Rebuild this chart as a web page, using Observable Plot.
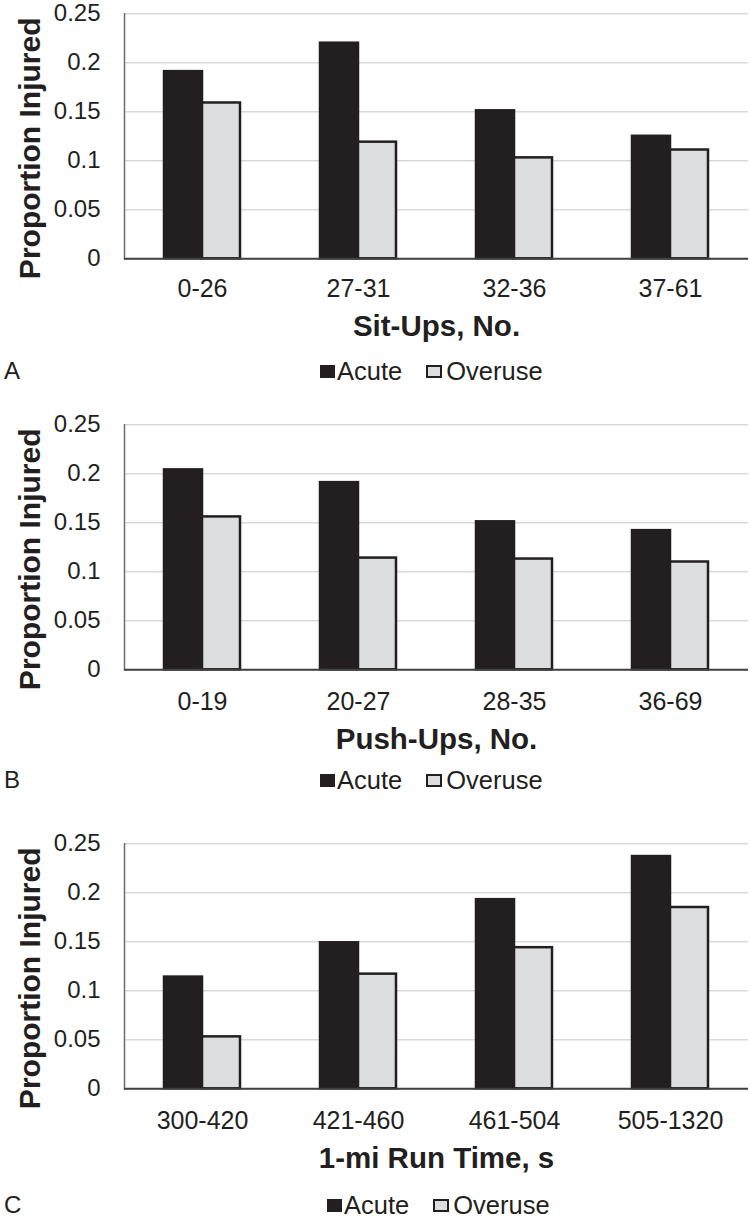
<!DOCTYPE html>
<html>
<head>
<meta charset="utf-8">
<script src="https://cdn.jsdelivr.net/npm/d3@7"></script>
<script src="https://cdn.jsdelivr.net/npm/@observablehq/plot@0.6"></script>
<style>
  html, body { margin: 0; padding: 0; background: #fff; }
  body { width: 750px; height: 1217px; position: relative; overflow: hidden;
         font-family: "Liberation Sans", Arial, sans-serif; color: #231f20; }
  .panel { position: absolute; left: 0; width: 750px; }
  .tag { position: absolute; left: 4px; font-size: 24px; line-height: 28px; }
  .legend { position: absolute; font-size: 25.5px; line-height: 28px; height: 28px;
            display: flex; align-items: center; white-space: nowrap; }
  .sw { display: inline-block; width: 15px; height: 13px; box-sizing: border-box; }
  .sw.acute { background: #231f20; margin-right: 2px; }
  .sw.overuse { background: #dcdddf; border: 2px solid #231f20; width: 16px; margin-left: 24px; margin-right: 4px; }
  [aria-label="y-axis label"] { translate: 0px 12px; }
  [aria-label="y-axis label"], [aria-label="y-axis label"] text { font-weight: bold; font-size: 30px; }
  [aria-label="fx-axis label"], [aria-label="fx-axis label"] text { font-weight: bold; font-size: 29.5px; }
</style>
</head>
<body>
<script>
// ---- data ----
const series = ["Acute", "Overuse"];
const seriesColors = ["#231f20", "#dcdddf"];
const yTicks = [0, 0.05, 0.1, 0.15, 0.2, 0.25];

const sitUpsCats = ["0-26", "27-31", "32-36", "37-61"];
const sitUpsAcute = [0.191, 0.220, 0.151, 0.125];
const sitUpsOveruse = [0.159, 0.119, 0.103, 0.111];

const pushUpsCats = ["0-19", "20-27", "28-35", "36-69"];
const pushUpsAcute = [0.204, 0.191, 0.151, 0.142];
const pushUpsOveruse = [0.156, 0.114, 0.113, 0.110];

const runCats = ["300-420", "421-460", "461-504", "505-1320"];
const runAcute = [0.114, 0.149, 0.193, 0.237];
const runOveruse = [0.053, 0.117, 0.144, 0.185];

const panels = [
  {cats: sitUpsCats, acute: sitUpsAcute, overuse: sitUpsOveruse, xLabel: "Sit-Ups, No.", letter: "A",
   top: 0, tickPad: 20, labelOffset: 77, legendY: 357, legendX: 320},
  {cats: pushUpsCats, acute: pushUpsAcute, overuse: pushUpsOveruse, xLabel: "Push-Ups, No.", letter: "B",
   top: 410.7, tickPad: 22, labelOffset: 79, legendY: 766, legendX: 320},
  {cats: runCats, acute: runAcute, overuse: runOveruse, xLabel: "1-mi Run Time, s", letter: "C",
   top: 830.4, tickPad: 22, labelOffset: 79, legendY: 1191, legendX: 327}
];

const H = 350, MT = 13.3, PH = 245;

for (const p of panels) {
  const rows = p.cats.flatMap((c, i) => [
    {cat: c, series: series[0], value: p.acute[i]},
    {cat: c, series: series[1], value: p.overuse[i]}
  ]);
  const chart = Plot.plot({
    width: 750,
    height: H,
    marginTop: MT,
    marginBottom: H - MT - PH,
    marginLeft: 124,
    marginRight: 2,
    style: {fontFamily: '"Liberation Sans", Arial, sans-serif', color: "#231f20", background: "transparent"},
    fx: {domain: p.cats, padding: 0},
    x: {domain: series, paddingInner: 0, paddingOuter: 1.05, axis: null},
    y: {domain: [0, 0.25]},
    color: {domain: series, range: seriesColors},
    marks: [
      Plot.gridY(yTicks, {stroke: "#d9d9d9", strokeOpacity: 1, strokeWidth: 1.5}),
      Plot.frame({anchor: "left", facetAnchor: "left", stroke: "#6b6b6b", strokeWidth: 1.5}),
      Plot.barY(rows, {fx: "cat", x: "series", y: "value", fill: "series", stroke: "#231f20", strokeWidth: 2.5}),
      Plot.ruleY([0], {stroke: "#404040", strokeWidth: 2}),
      Plot.axisY(yTicks, {tickSize: 0, tickPadding: 24, fontSize: 24, tickFormat: d => String(d),
        label: "Proportion Injured", labelAnchor: "center", labelOffset: 106, labelArrow: "none"}),
      Plot.axisFx({anchor: "bottom", tickSize: 0, tickPadding: p.tickPad, fontSize: 25,
        label: p.xLabel, labelAnchor: "center", labelOffset: p.labelOffset, labelArrow: "none"})
    ]
  });
  const wrap = document.createElement("div");
  wrap.className = "panel";
  wrap.style.top = p.top + "px";
  wrap.appendChild(chart);
  document.body.appendChild(wrap);

  const tag = document.createElement("div");
  tag.className = "tag";
  tag.style.top = p.legendY + "px";
  tag.textContent = p.letter;
  document.body.appendChild(tag);

  const leg = document.createElement("div");
  leg.className = "legend";
  leg.style.top = p.legendY + "px";
  leg.style.left = p.legendX + "px";
  leg.innerHTML = `<span class="sw acute"></span><span>${series[0]}</span><span class="sw overuse"></span><span>${series[1]}</span>`;
  document.body.appendChild(leg);
}
</script>
</body>
</html>
